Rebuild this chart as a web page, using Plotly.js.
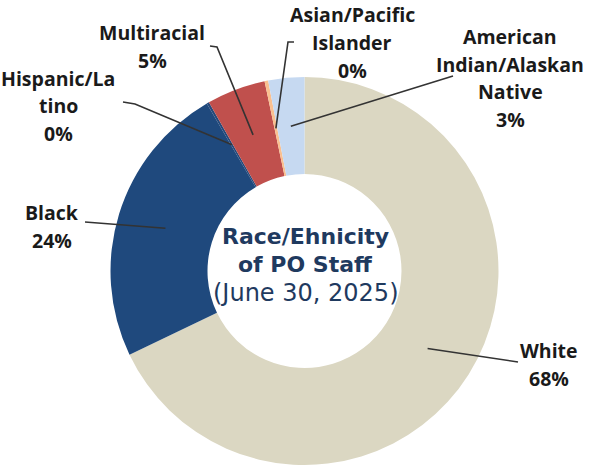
<!DOCTYPE html>
<html><head><meta charset="utf-8">
<script src="https://cdn.plot.ly/plotly-3.0.1.min.js"></script>
<style>html,body{margin:0;padding:0;background:#fff}</style>
</head><body><div id="chart" style="width:609px;height:467px"></div>
<script>
// ---- data ----
const categories = ["White", "Black", "Hispanic/Latino", "Multiracial", "Asian/Pacific Islander", "American Indian/Alaskan Native"];
const labelLines = [["White"], ["Black"], ["Hispanic/La", "tino"], ["Multiracial"], ["Asian/Pacific", "Islander"], ["American", "Indian/Alaskan", "Native"]];
const shares = [67.9, 23.7, 0.2, 4.9, 0.3, 3.0];
const centerTitle = ["Race/Ehnicity", "of PO Staff", "(June 30, 2025)"];

// ---- style / layout config ----
const sliceColors = ["#dbd7c2", "#1f497d", "#25497a", "#c0504d", "#fac090", "#c6d9f1"];
const W = 609, H = 467, CX = 304.5, CY = 271, R = 194, HOLE = 0.5;
// label block centre (px) and leader-line waypoints from label side (px)
const labelPos = [
  {x: 549, y: 364, path: [[518, 362]]},
  {x: 52, y: 226, path: [[85, 222]]},
  {x: 58, y: 106, path: [[123, 102], [135, 104]]},
  {x: 152, y: 47, path: [[210, 46], [217, 47]]},
  {x: 352, y: 42, path: [[294, 42], [288, 42]]},
  {x: 510, y: 78, path: [[453, 76]]}
];
const LINE = 28;

const px = x => x / W, py = y => 1 - y / H;
const total = shares.reduce((a, b) => a + b, 0);
const annotations = [], shapes = [];
let cum = 0;
shares.forEach((v, i) => {
  const mid = (cum + v / 2) / total * 2 * Math.PI; cum += v;
  const rr = R * (1 + HOLE) / 2;
  const ax = CX + rr * Math.sin(mid), ay = CY - rr * Math.cos(mid);
  const lp = labelPos[i];
  const lines = labelLines[i].concat([Math.round(v / total * 100) + "%"]);
  const y0 = lp.y - (lines.length - 1) * LINE / 2;
  lines.forEach((t, k) => annotations.push({
    xref: "paper", yref: "paper", x: px(lp.x), y: py(y0 + k * LINE), text: t,
    showarrow: false, xanchor: "center", yanchor: "middle",
    font: {family: "Open Sans, sans-serif", size: 19.5, color: "#1a1a1a", weight: 700}
  }));
  const pts = lp.path.concat([[ax, ay]]);
  const d = pts.map((p, k) => (k ? "L" : "M") + px(p[0]).toFixed(5) + "," + py(p[1]).toFixed(5)).join(" ");
  shapes.push({type: "path", xref: "paper", yref: "paper", path: d, line: {color: "#333333", width: 1.6}});
});
const cy0 = 236;
centerTitle.forEach((t, k) => annotations.push({
  xref: "paper", yref: "paper", x: px(CX + 1), y: py(cy0 + k * 28.5), text: t,
  showarrow: false, xanchor: "center", yanchor: "middle",
  font: {family: "DejaVu Sans, sans-serif", size: k < 2 ? 22 : 24, color: "#1f3a5f", weight: k < 2 ? 700 : 400}
}));

Plotly.newPlot("chart", [{
  type: "pie", labels: categories, values: shares, hole: HOLE, sort: false,
  direction: "clockwise", rotation: 0, textinfo: "none", hoverinfo: "none",
  marker: {colors: sliceColors, line: {width: 0}},
  domain: {x: [(CX - R) / W, (CX + R) / W], y: [1 - (CY + R) / H, 1 - (CY - R) / H]}
}], {
  width: W, height: H, margin: {l: 0, r: 0, t: 0, b: 0}, showlegend: false,
  paper_bgcolor: "#ffffff", annotations: annotations, shapes: shapes
}, {staticPlot: true});
</script></body></html>
